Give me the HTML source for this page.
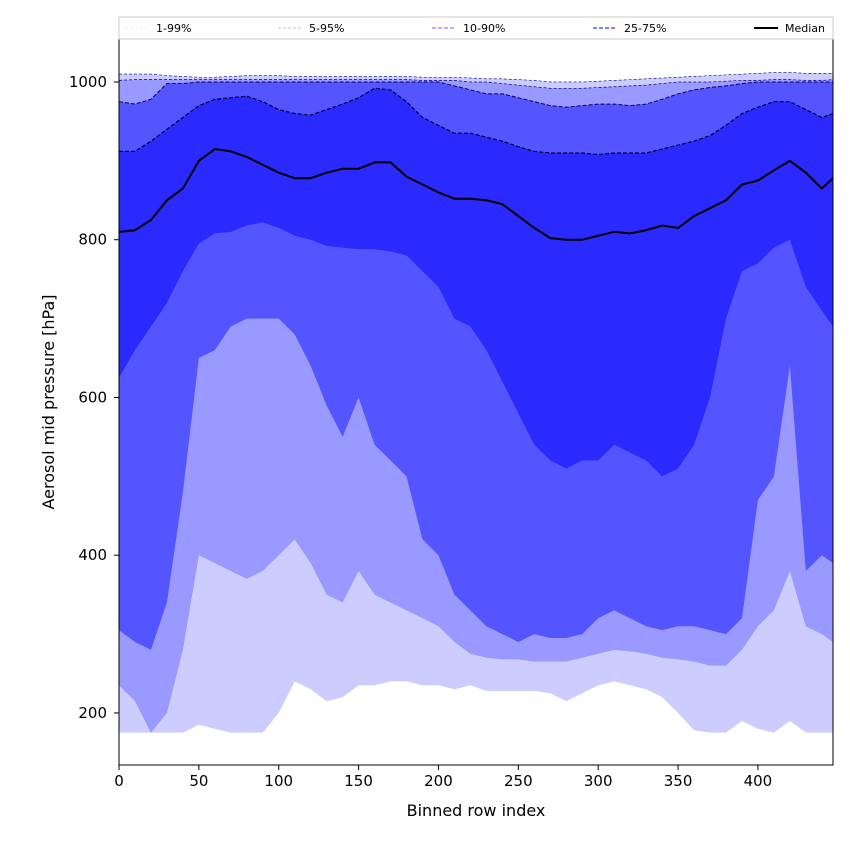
<!DOCTYPE html>
<html><head><meta charset="utf-8"><style>
body{margin:0;background:#fff;font-family:"DejaVu Sans","Liberation Sans",sans-serif}
svg text{font-family:"DejaVu Sans","Liberation Sans",sans-serif}
</style></head><body>
<svg id="c" width="850" height="850" xmlns="http://www.w3.org/2000/svg"></svg>
<script>
const xs=[0,10,20,30,40,50,60,70,80,90,100,110,120,130,140,150,160,170,180,190,200,210,220,230,240,250,260,270,280,290,300,310,320,330,340,350,360,370,380,390,400,410,420,430,440,447];
const p1=[175,175,175,175,175,185,180,175,175,175,200,240,230,215,220,235,235,240,240,235,235,230,235,228,228,228,228,225,215,225,235,240,235,230,220,200,178,175,175,190,180,175,190,175,175,175];
const p5=[235,215,175,200,280,400,390,380,370,380,400,420,390,350,340,380,350,340,330,320,310,290,275,270,268,268,265,265,265,270,275,280,278,275,270,268,265,260,260,280,310,330,380,310,300,290];
const p10=[305,290,280,340,480,650,660,690,700,700,700,680,640,590,550,600,540,520,500,420,400,350,330,310,300,290,300,295,295,300,320,330,320,310,305,310,310,305,300,320,470,500,640,380,400,390];
const p25=[625,660,690,720,760,795,808,810,818,822,815,805,800,792,790,788,788,785,780,760,740,700,690,660,620,580,540,520,510,520,520,540,530,520,500,510,540,600,700,760,770,790,800,740,710,690];
const med=[810,812,825,850,865,900,915,912,905,895,885,878,878,885,890,890,898,898,880,870,860,852,852,850,845,830,815,802,800,800,805,810,808,812,818,815,830,840,850,870,875,888,900,885,865,878];
const p75=[912,912,925,940,955,970,978,980,982,975,965,960,958,965,972,980,992,990,975,955,945,935,935,930,925,918,912,910,910,910,908,910,910,910,915,920,925,932,945,960,968,975,975,965,955,960];
const p90=[975,972,978,998,998,1000,1000,1000,1000,1000,1000,1000,1000,1000,1000,1000,1000,1000,1000,1000,1000,995,990,985,985,980,975,970,968,970,972,972,970,972,978,985,990,993,995,998,1000,1000,1000,1000,1000,1000];
const p95=[1002,1003,1003,1003,1003,1003,1003,1003,1003,1003,1003,1003,1003,1003,1003,1003,1003,1003,1003,1002,1002,1002,1000,1000,998,996,994,992,992,992,993,994,995,996,998,1000,1000,1000,1001,1002,1002,1003,1003,1002,1002,1003];
const p99=[1010,1010,1010,1008,1007,1006,1006,1007,1008,1008,1008,1007,1007,1007,1007,1007,1007,1007,1007,1006,1006,1006,1005,1004,1004,1003,1002,1000,1000,1000,1001,1002,1003,1004,1005,1006,1007,1008,1009,1010,1011,1012,1012,1011,1011,1011];
const xTicks=[0,50,100,150,200,250,300,350,400];
const yTicks=[200,400,600,800,1000];
const legendLabels=["1-99%","5-95%","10-90%","25-75%","Median"];

const L=119,R=833,T=39,B=765,X0=0,X1=447,Y0=134,Y1=1054.5;
const sx=v=>L+(v-X0)/(X1-X0)*(R-L);
const sy=v=>B-(v-Y0)/(Y1-Y0)*(B-T);
const svg=document.getElementById('c');
const NS="http://www.w3.org/2000/svg";
function mk(t,a,p){const e=document.createElementNS(NS,t);for(const k in a)e.setAttribute(k,a[k]);(p||svg).appendChild(e);return e;}
const clip=mk('clipPath',{id:'cp'});mk('rect',{x:L,y:T,width:R-L,height:B-T},clip);
const g=mk('g',{'clip-path':'url(#cp)'});
function band(lo,hi,col,name){
  let d='M'+xs.map((x,i)=>sx(x)+','+sy(hi[i])).join('L');
  for(let i=xs.length-1;i>=0;i--)d+='L'+sx(xs[i])+','+sy(lo[i]);
  const e=mk('path',{d:d+'Z',fill:col},g);
  
  
}
function line(arr,col,w,dash,name){
  const e=mk('path',{d:'M'+xs.map((x,i)=>sx(x)+','+sy(arr[i])).join('L'),fill:'none',stroke:col,'stroke-width':w,'stroke-dasharray':dash||'none'},g);
  
  
}
band(p1,p99,'#ccccff','band-1-99');
band(p5,p95,'#9999ff','band-5-95');
band(p10,p90,'#5555ff','band-10-90');
band(p25,p75,'#2a2aff','band-25-75');
line(p99,'#000080',0.6,'3,2','line-p99');
line(p95,'#000080',0.7,'3,2','line-p95');
line(p90,'#000060',1,'4,2','line-p90');
line(p75,'#000040',1.2,'4,2','line-p75');
line(med,'#000',2,null,'median-line');
mk('rect',{x:L,y:T,width:R-L,height:B-T,fill:'none',stroke:'#000','stroke-width':1});
xTicks.forEach(v=>{const x=sx(v);
  mk('line',{x1:x,x2:x,y1:B,y2:B+5,stroke:'#000'});
  const t=mk('text',{x:x,y:B+21,'text-anchor':'middle','font-size':15});t.textContent=v;
  
  });
yTicks.forEach(v=>{const y=sy(v);
  mk('line',{x1:L-5,x2:L,y1:y,y2:y,stroke:'#000'});
  const t=mk('text',{x:L-12,y:y+5,'text-anchor':'end','font-size':15});t.textContent=v;
  
  });
const xt=mk('text',{x:(L+R)/2,y:816,'text-anchor':'middle','font-size':16});xt.textContent='Binned row index';


const yt=mk('text',{x:0,y:0,'text-anchor':'middle','font-size':16,transform:`translate(54,${(T+B)/2}) rotate(-90)`});yt.textContent='Aerosol mid pressure [hPa]';


const lg=mk('g',{});


mk('rect',{x:L,y:17,width:R-L,height:22,fill:'#fff',stroke:'#ccc'},lg);
const lcols=['#ddddff','#aaaaee','#8888ee','#5555ff','#000'];
const lw=[0.6,0.8,1.2,1.6,2];
const ldash=['3,2','3,2','4,2','4,2','none'];
const lx=[125,278,432,593,754];
legendLabels.forEach((s,i)=>{
  mk('line',{x1:lx[i],x2:lx[i]+24,y1:28,y2:28,stroke:lcols[i],'stroke-width':lw[i],'stroke-dasharray':ldash[i]},lg);
  const t=mk('text',{x:lx[i]+31,y:32,'font-size':11},lg);t.textContent=s;
  
  
});
</script>
</body></html>
